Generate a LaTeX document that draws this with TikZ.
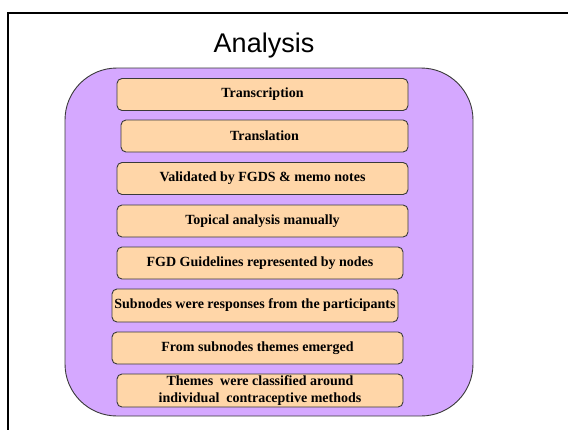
\documentclass[tikz,border=0pt]{standalone}
\usepackage{fontspec}
\setmainfont{Liberation Serif}
\newfontfamily\titlefont{Liberation Sans}
\usepackage{tikz}
\usetikzlibrary{positioning}
\definecolor{panelLila}{HTML}{D5A8FF}
\definecolor{pasoNaranja}{HTML}{FFD6A8}
\definecolor{bordeOscuro}{HTML}{3A3A3A}

\begin{document}
\begin{tikzpicture}[
        x=1pt, y=-1pt,
        panel/.style={draw=bordeOscuro, fill=panelLila, line width=0.9pt, rounded corners=52pt},
        stagebox/.style={draw=bordeOscuro, fill=pasoNaranja, line width=0.9pt, rounded corners=5pt, align=center, inner sep=0pt, minimum height=32pt, font=\fontsize{14}{16.5}\selectfont\bfseries},
        frame/.style={draw=black, line width=2pt}
    ]
        \useasboundingbox (0,0) rectangle (568,429);

        % Marco exterior (se sale por la derecha y por abajo)
        \draw[frame] (8,440) -- (8,13) -- (580,13);

        % Titulo
        \node[font=\titlefont\fontsize{27}{30}\selectfont, anchor=base] (titulo) at (264,52) {Analysis};

        % Panel lila de fondo
        \path[panel] (65,68) rectangle (473,416);

        % Pasos del analisis
        \node[stagebox, minimum width=291pt] (transc) at (262.5,94.5) {Transcription};
        \node[stagebox, minimum width=287pt] (transl) at (264.5,136) {Translation};
        \node[stagebox, minimum width=291pt] (valid) at (262.5,178.5) {Validated by FGDS \& memo notes};
        \node[stagebox, minimum width=291pt] (topic) at (262.5,221) {Topical analysis manually};
        \node[stagebox, minimum width=286pt] (guias) at (260,263) {FGD Guidelines represented by nodes};
        \node[stagebox, minimum width=286pt, minimum height=33pt] (subnod) at (255,305.5) {Subnodes were responses from the participants};
        \node[stagebox, minimum width=291pt] (emerg) at (257.5,348) {From subnodes themes emerged};
        \node[stagebox, minimum width=286pt, minimum height=33pt] (temas) at (260,390.5) {Themes\ \ were classified around\\individual\ \ contraceptive methods};
    \end{tikzpicture}
\end{document}
